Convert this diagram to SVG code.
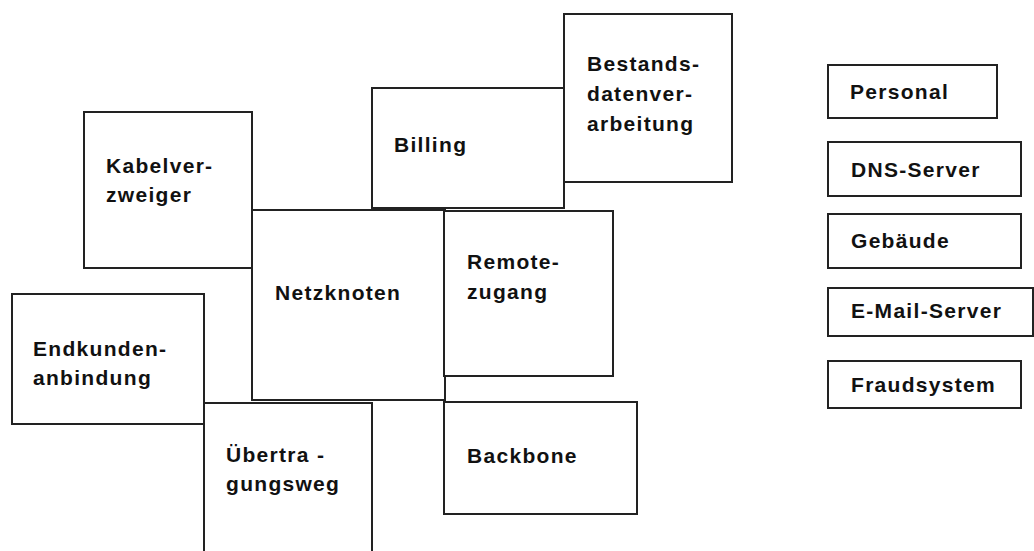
<svg xmlns="http://www.w3.org/2000/svg" width="1034" height="551" viewBox="0 0 1034 551">
<style>
.box{fill:#fff;stroke:#222;stroke-width:2}
.lbl{font-family:"Liberation Sans",Arial,sans-serif;font-weight:bold;font-size:21px;letter-spacing:1.3px;fill:#111}
</style>
<rect width="1034" height="551" fill="#fff"/>
<g id="connectors"/>
<g id="kabelverzweiger"><rect class="box" x="84" y="112" width="168" height="156"/><text class="lbl" x="106" y="173">Kabelver-</text><text class="lbl" x="106" y="202">zweiger</text></g>
<g id="billing"><rect class="box" x="372" y="88" width="192" height="120"/><text class="lbl" x="394" y="152">Billing</text></g>
<g id="bestandsdatenverarbeitung"><rect class="box" x="564" y="14" width="168" height="168"/><text class="lbl" x="587" y="71">Bestands-</text><text class="lbl" x="587" y="101">datenver-</text><text class="lbl" x="587" y="131">arbeitung</text></g>
<g id="netzknoten"><rect class="box" x="252" y="210" width="193" height="190"/><text class="lbl" x="275" y="300">Netzknoten</text></g>
<g id="remotezugang"><rect class="box" x="444" y="211" width="169" height="165"/><text class="lbl" x="467" y="269">Remote-</text><text class="lbl" x="467" y="299">zugang</text></g>
<g id="endkundenanbindung"><rect class="box" x="12" y="294" width="192" height="130"/><text class="lbl" x="33" y="356">Endkunden-</text><text class="lbl" x="33" y="385">anbindung</text></g>
<g id="uebertragungsweg"><rect class="box" x="204" y="403" width="168" height="160"/><text class="lbl" x="226" y="462">Übertra -</text><text class="lbl" x="226" y="491">gungsweg</text></g>
<g id="backbone"><rect class="box" x="444" y="402" width="193" height="112"/><text class="lbl" x="467" y="463">Backbone</text></g>
<g id="personal"><rect class="box" x="828" y="65" width="169" height="53"/><text class="lbl" x="850" y="99">Personal</text></g>
<g id="dns-server"><rect class="box" x="828" y="142" width="193" height="54"/><text class="lbl" x="851" y="177">DNS-Server</text></g>
<g id="gebaeude"><rect class="box" x="828" y="214" width="193" height="54"/><text class="lbl" x="851" y="248">Gebäude</text></g>
<g id="e-mail-server"><rect class="box" x="828" y="288" width="205" height="48"/><text class="lbl" x="851" y="318">E-Mail-Server</text></g>
<g id="fraudsystem"><rect class="box" x="828" y="361" width="193" height="47"/><text class="lbl" x="851" y="392">Fraudsystem</text></g>
</svg>
